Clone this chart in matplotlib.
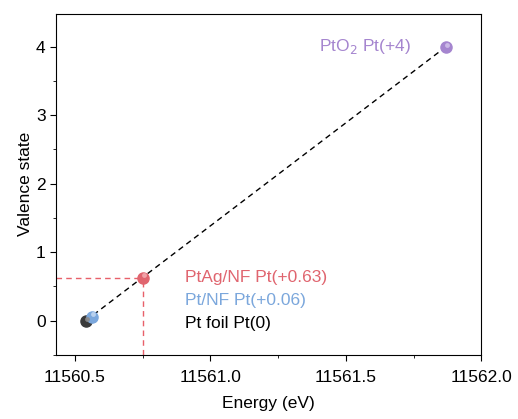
import matplotlib.pyplot as plt
from matplotlib.ticker import MultipleLocator

plt.rcParams['font.family'] = ['Liberation Sans', 'DejaVu Sans']

samples = ["Pt foil", "Pt/NF", "PtAg/NF", "PtO2"]
energy = [11560.54, 11560.563, 11560.75, 11561.87]
valence = [0.0, 0.06, 0.63, 4.0]
colors = ["#3a3a3a", "#7ba7dc", "#e0656f", "#a585cf"]
highlights = ["#8a8a8a", "#c0d6f1", "#f2a9af", "#d0bfe9"]

fig, ax = plt.subplots(figsize=(5.18, 4.19), dpi=100)
fig.subplots_adjust(left=0.108, right=0.929, top=0.967, bottom=0.153)

# reference line through Pt foil and PtO2
ax.plot([energy[0], energy[3]], [valence[0], valence[3]], ls=(0, (4, 3)),
        color="black", lw=1, zorder=2)

# guide lines for PtAg/NF
ax.plot([11560.43, energy[2]], [valence[2], valence[2]], ls=(0, (4, 3)),
        color="#e8606a", lw=1, zorder=1)
ax.plot([energy[2], energy[2]], [-0.5, valence[2]], ls=(0, (4, 3)),
        color="#e8606a", lw=1, zorder=1)

# shaded sphere markers
for x, y, c, h in zip(energy, valence, colors, highlights):
    ax.plot(x, y, "o", ms=8, color=c, mec=c, zorder=3)
    ax.plot(x + 0.005, y + 0.03, "o", ms=3.5, color=h, mec="none", zorder=4, alpha=0.9)

fs = 12.5
ax.text(11561.57, 4.0, "PtO$_2$ Pt(+4)", color="#a585cf", fontsize=fs,
        ha="center", va="center")
ax.text(11560.905, 0.63, "PtAg/NF Pt(+0.63)", color="#e0656f", fontsize=fs, va="center")
ax.text(11560.905, 0.30, "Pt/NF Pt(+0.06)", color="#7ba7dc", fontsize=fs, va="center")
ax.text(11560.905, -0.04, "Pt foil Pt(0)", color="black", fontsize=fs, va="center")

ax.set_xlim(11560.43, 11562.0)
ax.set_ylim(-0.5, 4.48)
ax.xaxis.set_major_locator(MultipleLocator(0.5))
ax.xaxis.set_minor_locator(MultipleLocator(0.25))
ax.yaxis.set_major_locator(MultipleLocator(1))
ax.yaxis.set_minor_locator(MultipleLocator(0.5))
ax.xaxis.set_major_formatter(plt.FormatStrFormatter("%.1f"))
ax.tick_params(which="both", direction="out", labelsize=fs)
ax.tick_params(which="major", length=4)
ax.tick_params(which="minor", length=2.5)
ax.tick_params(axis="x", which="major", pad=7)

ax.set_xlabel("Energy (eV)", fontsize=fs, labelpad=8)
ax.set_ylabel("Valence state", fontsize=fs, labelpad=2)

plt.savefig("out.png", dpi=100)
